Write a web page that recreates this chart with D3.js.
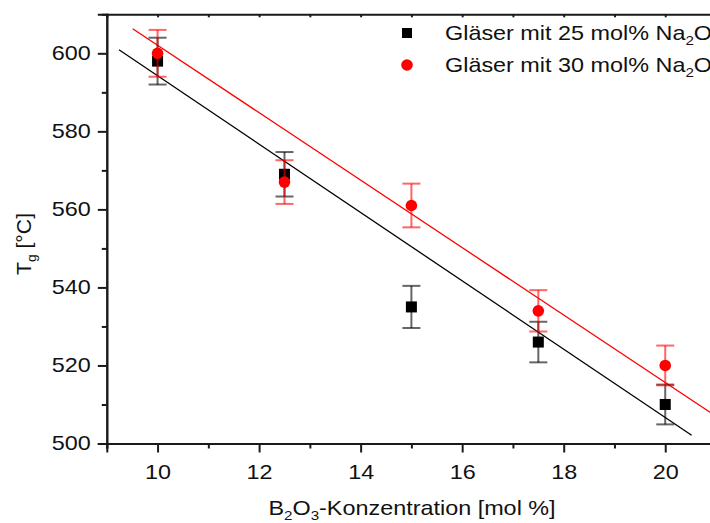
<!DOCTYPE html>
<html><head><meta charset="utf-8">
<script src="https://cdn.jsdelivr.net/npm/d3@7/dist/d3.min.js"></script>
<style>body{margin:0;background:#fff;overflow:hidden}svg{display:block}text{font-family:"Liberation Sans",Arial,sans-serif}</style>
</head><body>
<script>
const concentrations = [10, 12.5, 15, 17.5, 20];
const tg25 = [598, 569, 535, 526, 510];
const err25 = [6, 5.7, 5.4, 5.2, 5.1];
const tg30 = [600, 567, 561, 534, 520];
const err30 = [6, 5.6, 5.6, 5.3, 5.1];
const fit25X = [9.24, 20.52];
const fit25Y = [600.9, 502.1];
const fit30X = [9.51, 21];
const fit30Y = [606.3, 507.0];
const xTicks = [10, 12, 14, 16, 18, 20];
const xMinor = [9, 11, 13, 15, 17, 19, 21];
const yTicks = [500, 520, 540, 560, 580, 600];
const yMinor = [510, 530, 550, 570, 590];
const legendLabels = ["Gläser mit 25 mol% Na", "Gläser mit 30 mol% Na"];

const W = 710, H = 523;
const SX = 1.17; // horizontal stretch of the reference typography
const svg = d3.select("body").append("svg").attr("width", W).attr("height", H);
const x = d3.scaleLinear().domain([9, 21]).range([106.8, 716]);
const y = d3.scaleLinear().domain([500, 610]).range([443.5, 14.3]);
const axisColor = "#1a1a1a";

// fit lines
const line = d3.line().x(d => x(d[0])).y(d => y(d[1]));
svg.append("path").attr("d", line(d3.zip(fit25X, fit25Y))).attr("stroke", "#000").attr("stroke-width", 1.3).attr("fill", "none");
svg.append("path").attr("d", line(d3.zip(fit30X, fit30Y))).attr("stroke", "#ff0000").attr("stroke-width", 1.3).attr("fill", "none");

function errBars(vals, errs, color) {
  const g = svg.append("g").attr("stroke", color).attr("stroke-opacity", 0.6).attr("stroke-width", 2);
  concentrations.forEach((c, i) => {
    const cx = x(c), t = y(vals[i] + errs[i]), b = y(vals[i] - errs[i]);
    g.append("line").attr("x1", cx).attr("x2", cx).attr("y1", t).attr("y2", b);
    g.append("line").attr("x1", cx - 9).attr("x2", cx + 9).attr("y1", t).attr("y2", t);
    g.append("line").attr("x1", cx - 9).attr("x2", cx + 9).attr("y1", b).attr("y2", b);
  });
}
errBars(tg25, err25, "#000");
svg.selectAll(".sq").data(concentrations).enter().append("rect")
  .attr("x", d => x(d) - 5.5).attr("y", (d, i) => y(tg25[i]) - 5.5)
  .attr("width", 11).attr("height", 11).attr("fill", "#000");
errBars(tg30, err30, "#ff0000");
svg.selectAll(".ci").data(concentrations).enter().append("circle")
  .attr("cx", d => x(d)).attr("cy", (d, i) => y(tg30[i])).attr("r", 5.8).attr("fill", "#ff0000");

// axes
const xAxis = svg.append("g").attr("transform", `translate(0,${y(500)})`)
  .call(d3.axisBottom(x).tickValues(xTicks).tickSize(9).tickPadding(12).tickFormat(d3.format("d")));
svg.append("g").attr("transform", `translate(0,${y(500)})`)
  .call(d3.axisBottom(x).tickValues(xMinor).tickSize(5).tickFormat(""));
const yAxis = svg.append("g").attr("transform", `translate(${x(9)},0)`)
  .call(d3.axisLeft(y).tickValues(yTicks).tickSize(9).tickPadding(7).tickFormat(d3.format("d")));
svg.append("g").attr("transform", `translate(${x(9)},0)`)
  .call(d3.axisLeft(y).tickValues(yMinor).tickSize(5).tickFormat(""));
svg.append("g").attr("transform", `translate(0,${y(610)})`)
  .call(d3.axisTop(x).tickValues(xTicks.concat(xMinor)).tickSize(-3).tickFormat(""));
svg.selectAll(".domain").attr("stroke", axisColor).attr("stroke-width", 2);
svg.selectAll(".tick line").attr("stroke", axisColor).attr("stroke-width", 2);
svg.selectAll(".tick text").attr("font-size", 20).attr("fill", "#111").attr("font-family", "Liberation Sans, Arial, sans-serif");
xAxis.selectAll(".tick text").attr("transform", `scale(${SX},1)`);
yAxis.selectAll(".tick text").attr("transform", `scale(${SX},1)`).attr("x", -16 / SX);

// axis titles
const xt = svg.append("text").attr("transform", `translate(412,515) scale(${SX},1)`).attr("text-anchor", "middle").attr("font-size", 20).attr("fill", "#111");
xt.append("tspan").text("B");
xt.append("tspan").text("2").attr("font-size", 13).attr("dy", 5);
xt.append("tspan").text("O").attr("dy", -5);
xt.append("tspan").text("3").attr("font-size", 13).attr("dy", 5);
xt.append("tspan").text("-Konzentration [mol %]").attr("dy", -5);

const yt = svg.append("text").attr("transform", "translate(31,244) rotate(-90) scale(1.06,1)").attr("text-anchor", "middle").attr("font-size", 20).attr("fill", "#111");
yt.append("tspan").text("T");
yt.append("tspan").text("g").attr("font-size", 13).attr("dy", 5);
yt.append("tspan").text(" [°C]").attr("dy", -5);

// legend
const lg = svg.append("g");
lg.append("rect").attr("x", 402).attr("y", 28).attr("width", 10).attr("height", 10).attr("fill", "#000");
lg.append("circle").attr("cx", 407).attr("cy", 65).attr("r", 5.8).attr("fill", "#ff0000");
legendLabels.forEach((lab, i) => {
  const t = lg.append("text").attr("transform", `translate(445,${40 + i * 32}) scale(${SX},1)`).attr("font-size", 20).attr("fill", "#111");
  t.append("tspan").text(lab);
  t.append("tspan").text("2").attr("font-size", 13).attr("dy", 5);
  t.append("tspan").text("O").attr("dy", -5);
});
</script>
</body></html>
